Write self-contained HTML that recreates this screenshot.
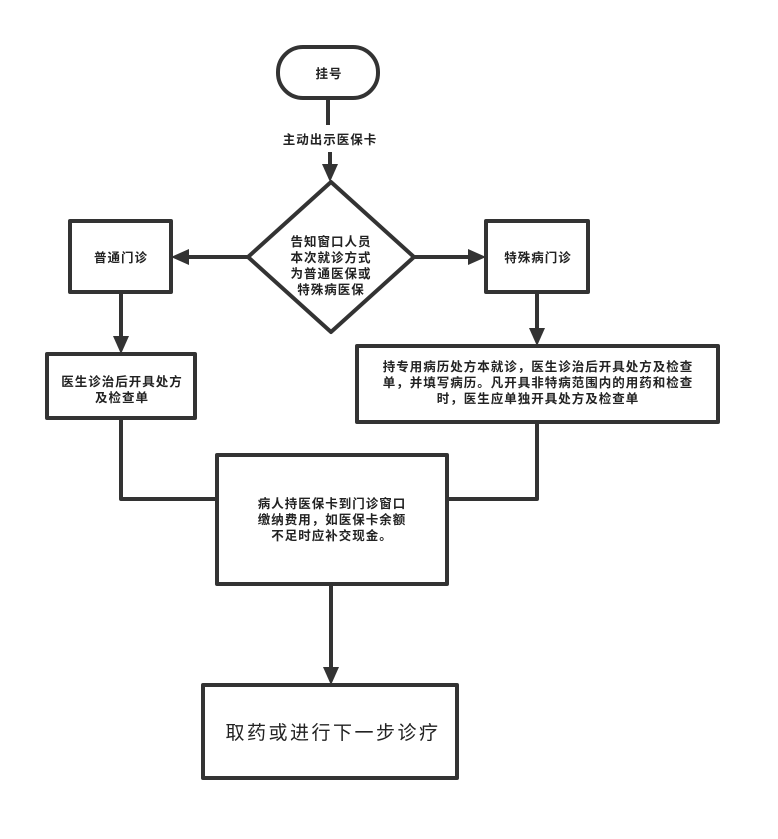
<!DOCTYPE html>
<html><head><meta charset="utf-8"><style>
html,body{margin:0;padding:0;background:#fff;}
svg{display:block;}
text{font-family:"Liberation Sans","Noto Sans CJK SC",sans-serif;fill:#222;}
</style></head><body>
<svg width="778" height="839" viewBox="0 0 778 839" xmlns="http://www.w3.org/2000/svg">
<g fill="none" stroke="#333" stroke-width="4" stroke-linejoin="round">
<rect x="278" y="47" width="100" height="51" rx="25" ry="25" fill="#fff"/>
<line x1="328" y1="98" x2="328" y2="125"/>
<line x1="330" y1="152" x2="330" y2="166"/>
<polygon points="331,182 414,257 331,332 248,257" fill="#fff"/>
<rect x="70" y="221" width="101" height="71" fill="#fff"/>
<rect x="486" y="221" width="102" height="71" fill="#fff"/>
<line x1="248" y1="257" x2="188" y2="257"/>
<line x1="414" y1="257" x2="470" y2="257"/>
<rect x="47" y="354" width="148" height="64" fill="#fff"/>
<line x1="121" y1="292" x2="121" y2="338"/>
<rect x="357" y="346" width="361" height="76" fill="#fff"/>
<line x1="537" y1="292" x2="537" y2="330"/>
<polyline points="121,418 121,499 217,499"/>
<polyline points="537,422 537,499 447,499"/>
<rect x="217" y="455" width="230" height="129" fill="#fff"/>
<line x1="331" y1="584" x2="331" y2="668"/>
<rect x="203" y="685" width="254" height="93" fill="#fff"/>
</g>
<g fill="#333">
<polygon points="322,164 338,164 330,182"/>
<polygon points="171,257 189,249 189,265"/>
<polygon points="486,257 468,249 468,265"/>
<polygon points="113,336 129,336 121,354"/>
<polygon points="529,328 545,328 537,346"/>
<polygon points="323,667 339,667 331,685"/>
</g>
<g font-size="12.5" text-anchor="middle" font-weight="bold" letter-spacing="1">
<text x="329" y="78">挂号</text>
<text x="330" y="144">主动出示医保卡</text>
<text x="331" y="246">告知窗口人员</text>
<text x="331" y="262">本次就诊方式</text>
<text x="331" y="278">为普通医保或</text>
<text x="331" y="294">特殊病医保</text>
<text x="121" y="262">普通门诊</text>
<text x="538" y="262">特殊病门诊</text>
<text x="122" y="386">医生诊治后开具处方</text>
<text x="122" y="402">及检查单</text>
<text x="538" y="371">持专用病历处方本就诊，医生诊治后开具处方及检查</text>
<text x="538" y="387">单，并填写病历。凡开具非特病范围内的用药和检查</text>
<text x="538" y="403">时，医生应单独开具处方及检查单</text>
<text x="332" y="508">病人持医保卡到门诊窗口</text>
<text x="332" y="524">缴纳费用，如医保卡余额</text>
<text x="332" y="540">不足时应补交现金。</text>
<text x="333" y="739" font-size="19" font-weight="normal" letter-spacing="2.5">取药或进行下一步诊疗</text>
</g>
</svg>
</body></html>
